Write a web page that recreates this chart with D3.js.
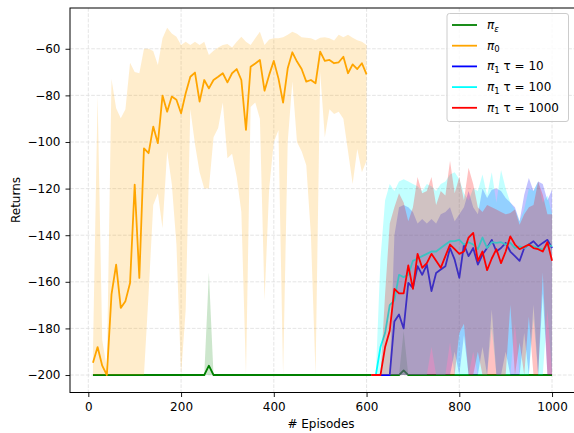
<!DOCTYPE html>
<html lang="en">
<head>
<meta charset="UTF-8">
<title>Returns per episode</title>
<script src="https://d3js.org/d3.v7.min.js"></script>
<style>
    body {
        margin: 0;
        background: #fff;
    }
    svg {
        display: block;
        font-family: "DejaVu Sans", sans-serif;
    }
    .tick text {
        font-size: 12px;
        fill: #000;
    }
</style>
</head>
<body>
<svg id="chart" width="574" height="433"></svg>
<script>
    // episode grids (one point every 10 episodes)
    const episodes = d3.range(10, 1001, 10);
    const orangeEpisodes = d3.range(10, 601, 10);
    const pi1Episodes = d3.range(610, 1001, 10);

    const xTicks = [0, 200, 400, 600, 800, 1000];
    const yTicks = [-200, -180, -160, -140, -120, -100, -80, -60];

    // pi_eps
    const greenMean = [
        -200, -200, -200, -200, -200, -200, -200, -200, -200, -200,
        -200, -200, -200, -200, -200, -200, -200, -200, -200, -200,
        -200, -200, -200, -200, -200, -196, -200, -200, -200, -200,
        -200, -200, -200, -200, -200, -200, -200, -200, -200, -200,
        -200, -200, -200, -200, -200, -200, -200, -200, -200, -200,
        -200, -200, -200, -200, -200, -200, -200, -200, -200, -200,
        -200, -200, -200, -200, -200, -200, -200, -198, -200, -200,
        -200, -200, -200, -200, -200, -200, -200, -200, -200, -200,
        -200, -200, -200, -200, -200, -200, -200, -200, -200, -200,
        -200, -200, -200, -200, -200, -200, -200, -200, -200, -200
    ];
    const greenUpper = [
        -200, -200, -200, -200, -200, -200, -200, -200, -200, -200,
        -200, -200, -200, -200, -200, -200, -200, -200, -200, -200,
        -200, -200, -200, -200, -200, -156, -200, -200, -200, -200,
        -200, -200, -200, -200, -200, -200, -200, -200, -200, -200,
        -200, -200, -200, -200, -200, -200, -200, -200, -200, -200,
        -200, -200, -200, -200, -200, -200, -200, -200, -200, -200,
        -200, -200, -200, -200, -200, -200, -200, -181, -200, -200,
        -200, -200, -200, -200, -200, -200, -200, -200, -200, -200,
        -200, -200, -200, -200, -200, -200, -200, -200, -200, -200,
        -200, -200, -200, -200, -200, -200, -200, -200, -200, -200
    ];
    const greenLower = [
        -200, -200, -200, -200, -200, -200, -200, -200, -200, -200,
        -200, -200, -200, -200, -200, -200, -200, -200, -200, -200,
        -200, -200, -200, -200, -200, -200, -200, -200, -200, -200,
        -200, -200, -200, -200, -200, -200, -200, -200, -200, -200,
        -200, -200, -200, -200, -200, -200, -200, -200, -200, -200,
        -200, -200, -200, -200, -200, -200, -200, -200, -200, -200,
        -200, -200, -200, -200, -200, -200, -200, -200, -200, -200,
        -200, -200, -200, -200, -200, -200, -200, -200, -200, -200,
        -200, -200, -200, -200, -200, -200, -200, -200, -200, -200,
        -200, -200, -200, -200, -200, -200, -200, -200, -200, -200
    ];

    // pi_0 (episodes 10..600)
    const orangeMean = [
        -194.7, -188, -196, -200, -165.4, -152.6, -171.2, -168.3, -160.5, -118.3,
        -158.3, -102.7, -104.8, -93.4, -100.5, -80.1, -87, -80.5, -81.9, -87.7,
        -79.1, -72, -70.2, -82.7, -73.4, -77, -73.4, -72, -70.5, -74.4,
        -70.5, -68.7, -73.4, -94.8, -67.7, -66.3, -64.8, -78, -71.2, -65.2,
        -72.7, -83.1, -68.4, -61.5, -65.5, -68.7, -74.1, -73.4, -74.8, -61.2,
        -65.2, -64.8, -66.2, -65.8, -63.4, -70.5, -66.7, -68.7, -66.2, -71
    ];
    const orangeUpper = [
        -190, -80, -185, -197, -73, -85.5, -89.8, -86, -66, -70,
        -70.5, -60, -60, -61, -67, -55.5, -51, -53.4, -54.8, -58.4,
        -57, -58.4, -57, -58.4, -57, -62.7, -60.8, -59.5, -58.4, -58,
        -59.5, -57, -54.8, -57, -58.4, -55.5, -52.7, -58.4, -56, -55.5,
        -55.5, -55, -54, -52.7, -53.5, -55, -55.3, -55.5, -56.3, -55.3,
        -55, -55.5, -56.5, -54, -55, -54, -55.3, -56.3, -57, -58.4
    ];
    const orangeLower = [
        -200, -200, -200, -200, -200, -200, -200, -200, -200, -200,
        -200, -200, -165, -127, -122, -137, -104, -118, -144, -200,
        -172, -86, -101, -113, -120, -120, -98, -94, -83, -107,
        -105, -115, -130, -200, -85, -83, -90, -168, -120, -100,
        -95, -200, -100, -74, -100, -104, -110, -140, -200, -70,
        -98, -86, -88, -87, -90, -104, -118, -103, -113, -108
    ];

    // pi_1, tau = 10 (episodes 610..1000)
    const blueMean = [
        -200, -200, -200, -200, -200, -177, -174, -180, -160.5, -162.6,
        -153.3, -157, -152.6, -164, -156.2, -154.7, -153.3, -145.5, -150.5, -158.3,
        -144, -149, -145.5, -152.6, -148.3, -145.5, -142, -147, -145.5, -143.3,
        -147, -149, -151, -145.5, -144, -142.6, -144.8, -143.3, -142, -145.5
    ];
    const blueUpper = [
        -200, -200, -200, -200, -200, -140, -128, -127, -128, -130,
        -135, -133, -135, -133, -135, -131, -130, -128, -134, -131,
        -128, -121, -128, -131, -120, -124, -120.5, -120, -121, -124,
        -126, -128, -134, -122.6, -115.5, -121, -117, -118, -125, -120.5
    ];
    const blueLower = [
        -200, -200, -200, -200, -200, -200, -200, -200, -200, -200,
        -200, -200, -200, -200, -200, -200, -200, -200, -190, -200,
        -183, -200, -200, -200, -188, -200, -172, -200, -200, -190,
        -200, -200, -200, -182, -200, -170, -200, -165, -200, -200
    ];

    // pi_1, tau = 100
    const cyanMean = [
        -200, -200, -188, -182, -170, -168, -157, -158, -157, -151,
        -150, -149, -148, -147, -147, -145.5, -144, -142.6, -142.5, -142,
        -144, -143, -144, -146, -141, -145.5, -143, -143.3, -143, -144,
        -143.3, -145.5, -144.8, -145.5, -144, -144.8, -145.5, -146.2, -144, -144.8
    ];
    const cyanUpper = [
        -200, -200, -150, -125, -118, -121, -117, -116, -117, -118,
        -119, -121, -118, -119, -121, -118, -117, -114, -113, -116,
        -122, -125, -120, -121, -114, -123, -113, -126, -112, -120,
        -126, -129, -134, -129, -120, -121, -117, -126, -123, -131
    ];
    const cyanLower = [
        -200, -200, -200, -200, -200, -200, -200, -200, -200, -200,
        -200, -200, -200, -188, -200, -200, -200, -186, -200, -200,
        -200, -200, -190, -200, -200, -200, -180, -200, -200, -200,
        -200, -178, -200, -200, -200, -176, -200, -200, -172, -200
    ];

    // pi_1, tau = 1000
    const redMean = [
        -200, -200, -200, -188, -181, -163, -165, -165, -153, -163,
        -148, -154, -152, -148, -151, -154, -149, -144, -146, -148,
        -147, -141, -139, -151, -147, -155, -150, -146, -152, -147,
        -140.5, -144, -146, -145, -144, -145.5, -146, -147, -143, -151
    ];
    const redUpper = [
        -200, -200, -200, -165, -135, -128, -122, -126, -134, -128,
        -115, -122, -121, -115, -127, -121, -123, -108, -122, -115,
        -125, -111, -118, -128, -130, -127, -128, -129, -130, -131,
        -130.5, -129, -135.5, -131, -128, -127, -117, -122.6, -131, -131
    ];
    const redLower = [
        -200, -200, -200, -200, -200, -200, -200, -200, -200, -200,
        -200, -200, -200, -200, -200, -200, -200, -200, -200, -182,
        -178, -200, -200, -190, -200, -200, -200, -200, -200, -200,
        -170, -200, -186, -200, -175, -200, -200, -156, -200, -200
    ];

    const series = [
        { x: episodes, mean: greenMean, hi: greenUpper, lo: greenLower, color: "#008000", alpha: 0.2, sub: "ε", rest: "" },
        { x: orangeEpisodes, mean: orangeMean, hi: orangeUpper, lo: orangeLower, color: "#ffa500", alpha: 0.2, sub: "0", rest: "" },
        { x: pi1Episodes, mean: blueMean, hi: blueUpper, lo: blueLower, color: "#0000ff", alpha: 0.24, sub: "1", rest: " τ = 10" },
        { x: pi1Episodes, mean: cyanMean, hi: cyanUpper, lo: cyanLower, color: "#00ffff", alpha: 0.24, sub: "1", rest: " τ = 100" },
        { x: pi1Episodes, mean: redMean, hi: redUpper, lo: redLower, color: "#ff0000", alpha: 0.24, sub: "1", rest: " τ = 1000" }
    ];

    // right spine sits just outside the cropped picture
    const plot = { left: 70, right: 576, top: 8, bottom: 392.5 };

    const x = d3.scaleLinear().domain([-39.5, 1049.5]).range([plot.left, plot.right - 1]);
    const y = d3.scaleLinear().domain([-207.5, -42.5]).range([plot.bottom, plot.top]);

    const svg = d3.select("#chart");

    svg.append("defs").append("clipPath")
        .attr("id", "clip")
        .append("rect")
        .attr("x", plot.left)
        .attr("y", plot.top)
        .attr("width", plot.right - plot.left)
        .attr("height", plot.bottom - plot.top);

    // grid
    const grid = svg.append("g")
        .attr("stroke", "#b0b0b0")
        .attr("stroke-width", 0.8)
        .attr("stroke-dasharray", "3.7,1.6")
        .attr("opacity", 0.4);

    grid.selectAll(".gx").data(xTicks).join("line")
        .attr("x1", d => x(d)).attr("x2", d => x(d))
        .attr("y1", plot.top).attr("y2", plot.bottom);

    grid.selectAll(".gy").data(yTicks).join("line")
        .attr("x1", plot.left).attr("x2", plot.right)
        .attr("y1", d => y(d)).attr("y2", d => y(d));

    // bands and lines
    const data = svg.append("g").attr("clip-path", "url(#clip)");

    series.forEach(s => {
        const pts = s.x.map((ep, i) => ({ ep: ep, m: s.mean[i], hi: s.hi[i], lo: s.lo[i] }));

        const area = d3.area()
            .x(d => x(d.ep))
            .y0(d => y(d.lo))
            .y1(d => y(d.hi));

        const line = d3.line()
            .x(d => x(d.ep))
            .y(d => y(d.m));

        data.append("path")
            .datum(pts)
            .attr("d", area)
            .attr("fill", s.color)
            .attr("fill-opacity", s.alpha);

        data.append("path")
            .datum(pts)
            .attr("d", line)
            .attr("fill", "none")
            .attr("stroke", s.color)
            .attr("stroke-width", 1.8)
            .attr("stroke-linejoin", "round");
    });

    // axes
    const xAxis = svg.append("g")
        .attr("transform", `translate(0,${plot.bottom})`)
        .call(d3.axisBottom(x).tickValues(xTicks).tickSize(4.5).tickPadding(5).tickFormat(d3.format("d")));

    const yAxis = svg.append("g")
        .attr("transform", `translate(${plot.left},0)`)
        .call(d3.axisLeft(y).tickValues(yTicks).tickSize(4.5).tickPadding(5).tickFormat(d3.format("d")));

    [xAxis, yAxis].forEach(a => {
        a.select(".domain").remove();
        a.selectAll(".tick line").attr("stroke", "#000").attr("stroke-width", 0.9);
        a.selectAll(".tick text").attr("font-family", "DejaVu Sans").attr("font-size", 12);
    });

    // spines
    svg.append("rect")
        .attr("x", plot.left)
        .attr("y", plot.top)
        .attr("width", plot.right - plot.left)
        .attr("height", plot.bottom - plot.top)
        .attr("fill", "none")
        .attr("stroke", "#000")
        .attr("stroke-width", 1);

    // axis labels
    svg.append("text")
        .attr("x", 321)
        .attr("y", 428)
        .attr("text-anchor", "middle")
        .attr("font-size", 12)
        .text("# Episodes");

    svg.append("text")
        .attr("transform", "translate(19.5,200) rotate(-90)")
        .attr("text-anchor", "middle")
        .attr("font-size", 12)
        .text("Returns");

    // legend
    const legend = svg.append("g");

    legend.append("rect")
        .attr("x", 447)
        .attr("y", 13.5)
        .attr("width", 121.5)
        .attr("height", 108)
        .attr("rx", 2.5)
        .attr("fill", "#fff")
        .attr("fill-opacity", 0.8)
        .attr("stroke", "#cccccc")
        .attr("stroke-width", 1);

    series.forEach((s, i) => {
        const cy = 25 + i * 20.7;
        legend.append("line")
            .attr("x1", 452).attr("x2", 477)
            .attr("y1", cy).attr("y2", cy)
            .attr("stroke", s.color)
            .attr("stroke-width", 1.8);

        const t = legend.append("text")
            .attr("x", 487)
            .attr("y", cy + 4)
            .attr("font-size", 12);

        t.append("tspan").attr("font-style", "italic").text("π");
        t.append("tspan")
            .attr("font-size", 8.5)
            .attr("dy", 2.5)
            .attr("font-style", s.sub === "ε" ? "italic" : "normal")
            .text(s.sub);
        if (s.rest) {
            t.append("tspan").attr("dy", -2.5).text(s.rest);
        }
    });
</script>
</body>
</html>
